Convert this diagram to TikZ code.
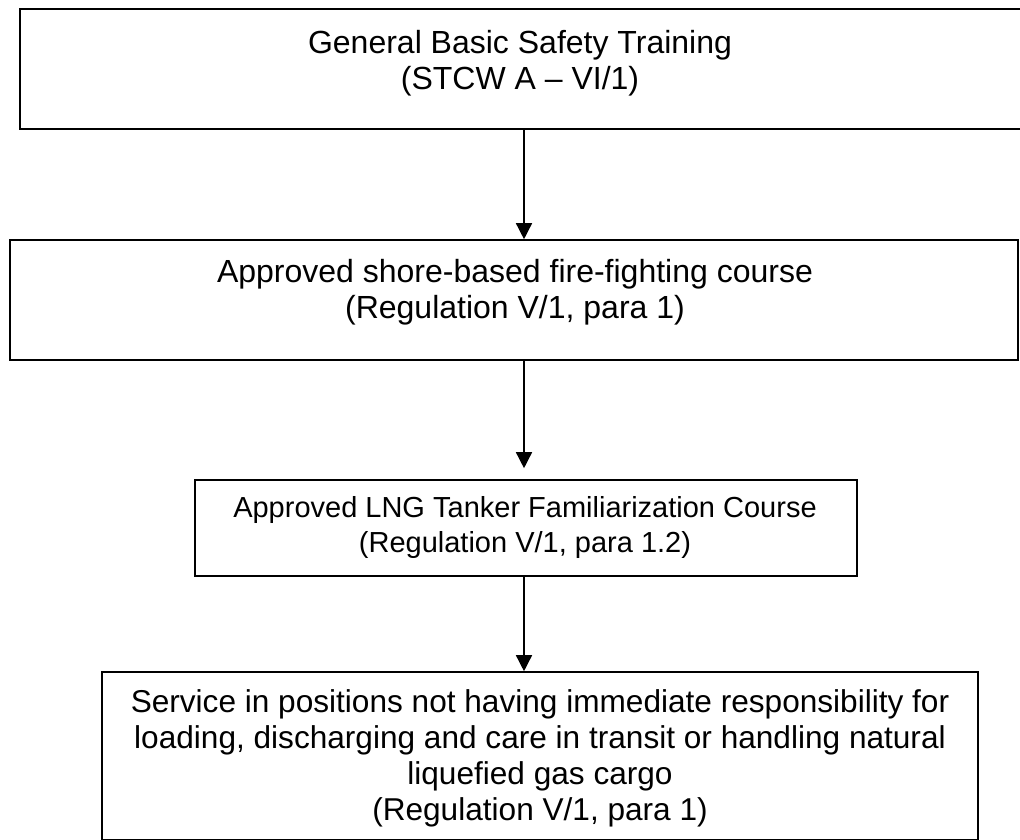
\documentclass[tikz,border=0pt]{standalone}
\usepackage{fontspec}
\setmainfont{Liberation Sans}
\usetikzlibrary{arrows.meta}
% multi-line centred text whose reference point is the first baseline
\newcommand\stagetext[3]{{\fontsize{#1}{#2}\selectfont\begin{tabular}[t]{@{}c@{}}#3\end{tabular}}}
\begin{document}
\begin{tikzpicture}[x=0.75pt,y=-0.75pt,
  stage/.style={draw=black, line width=1.2pt, inner sep=0pt},
  topstage/.style={stage, line width=1.6pt},
  caption/.style={anchor=base, inner sep=0pt},
  flow/.style={draw=black, line width=1.1pt, -{Triangle[width=12pt,length=12pt]}},
]
\useasboundingbox (0,0) rectangle (1020,839);
\clip (0,0) rectangle (1020,839);
\fill[white] (0,0) rectangle (1020,839);

% boxes
\node[topstage, minimum width=750.75pt, minimum height=90pt] (b1) at (520.5,69) {};
\node[stage, minimum width=756pt, minimum height=90pt] (b2) at (514,300) {};
\node[stage, minimum width=496.5pt, minimum height=72pt] (b3) at (526,528) {};
\node[stage, minimum width=657pt, minimum height=126pt] (b4) at (540,756) {};

% texts
\node[caption] (t1) at (520,53) {\stagetext{24pt}{27pt}{General Basic Safety Training\\(STCW A – VI/1)}};
\node[caption] (t2) at (515,282) {\stagetext{24pt}{27pt}{Approved shore-based fire-fighting course\\(Regulation V/1, para 1)}};
\node[caption] (t3) at (525,517) {\stagetext{21.75pt}{26.25pt}{Approved LNG Tanker Familiarization Course\\(Regulation V/1, para 1.2)}};
\node[caption] (t4) at (540,712) {\stagetext{23.7pt}{27pt}{Service in positions not having immediate responsibility for\\loading, discharging and care in transit or handling natural\\liquefied gas cargo\\(Regulation V/1, para 1)}};

% connectors
\coordinate (spine) at (524,0);
\draw[flow] (b1.south -| spine) -- (b2.north -| spine);
\draw[flow, shorten >=8.25pt] (b2.south -| spine) -- (b3.north -| spine);
\draw[flow] (b3.south -| spine) -- (b4.north -| spine);
\end{tikzpicture}
\end{document}
